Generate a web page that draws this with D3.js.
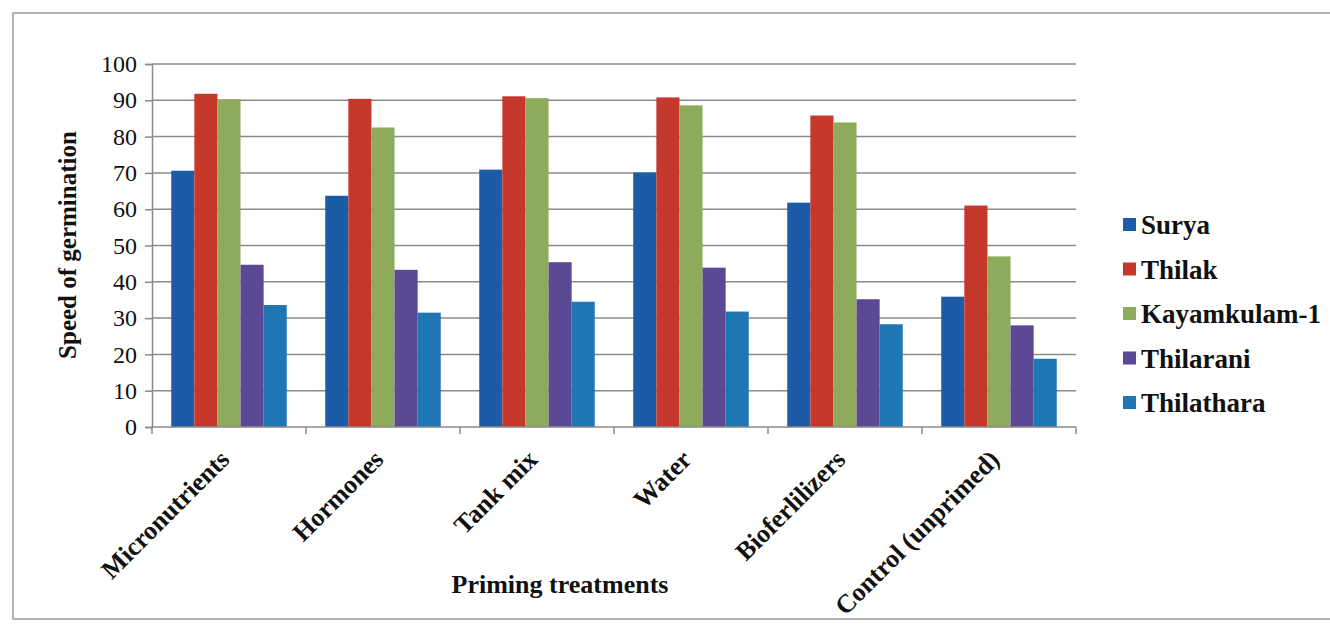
<!DOCTYPE html>
<html>
<head>
<meta charset="utf-8">
<script src="https://cdn.jsdelivr.net/npm/d3@7"></script>
<style>
  html, body { margin: 0; padding: 0; background: #fff; }
  svg { display: block; }
</style>
</head>
<body>
<svg id="chart" width="1330" height="624"></svg>
<script>
// Priming treatments (x categories)
const categories = ["Micronutrients", "Hormones", "Tank mix", "Water", "Bioferlilizers", "Control (unprimed)"];

// Varieties (series)
const seriesNames = ["Surya", "Thilak", "Kayamkulam-1", "Thilarani", "Thilathara"];

// Speed of germination per variety, in category order
const surya      = [70.6, 63.7, 70.9, 70.1, 61.8, 35.9];
const thilak     = [91.8, 90.4, 91.1, 90.8, 85.8, 61.0];
const kayamkulam = [90.3, 82.5, 90.6, 88.6, 83.9, 47.0];
const thilarani  = [44.7, 43.3, 45.4, 43.9, 35.2, 28.0];
const thilathara = [33.6, 31.5, 34.5, 31.8, 28.3, 18.8];

const yTicks = [0, 10, 20, 30, 40, 50, 60, 70, 80, 90, 100];

const seriesValues = [surya, thilak, kayamkulam, thilarani, thilathara];
const colors = ["#1c5ba6", "#c6372c", "#8dab5b", "#5c4996", "#1f76b2"];

const SERIF = "'Liberation Serif', 'Times New Roman', serif";

const svg = d3.select("#chart");

// outer frame
svg.append("rect")
  .attr("x", 13).attr("y", 13).attr("width", 1330).attr("height", 606)
  .attr("fill", "none").attr("stroke", "#9a9a9a").attr("stroke-width", 1.5);

const plot = { left: 152, right: 1076, top: 64, bottom: 427 };

const x0 = d3.scaleBand()
  .domain(categories)
  .range([plot.left, plot.right])
  .paddingInner(0.25)
  .paddingOuter(0.125);

const x1 = d3.scaleBand()
  .domain(seriesNames)
  .range([0, x0.bandwidth()]);

const y = d3.scaleLinear().domain([0, 100]).range([plot.bottom, plot.top]);

// horizontal gridlines
svg.append("g")
  .selectAll("line")
  .data(yTicks.filter(d => d > 0))
  .join("line")
  .attr("x1", plot.left).attr("x2", plot.right)
  .attr("y1", d => y(d)).attr("y2", d => y(d))
  .attr("stroke", "#8a8a8a").attr("stroke-width", 1.5);

// y axis
const yAxis = svg.append("g")
  .attr("transform", `translate(${plot.left},0)`)
  .call(d3.axisLeft(y).tickValues(yTicks).tickSize(7).tickPadding(8));
yAxis.select(".domain").attr("stroke", "#8a8a8a").attr("stroke-width", 1.5);
yAxis.selectAll(".tick line").attr("stroke", "#8a8a8a").attr("stroke-width", 1.5);
yAxis.selectAll(".tick text")
  .style("font-family", SERIF)
  .style("font-size", "24px")
  .attr("fill", "#111");

// bars
const groups = svg.append("g")
  .selectAll("g")
  .data(categories)
  .join("g")
  .attr("transform", d => `translate(${x0(d)},0)`);

groups.selectAll("rect")
  .data((c, ci) => seriesNames.map((s, si) => ({ s, si, v: seriesValues[si][ci] })))
  .join("rect")
  .attr("x", d => x1(d.s))
  .attr("width", x1.bandwidth())
  .attr("y", d => y(d.v))
  .attr("height", d => y(0) - y(d.v))
  .attr("fill", d => colors[d.si]);

// x axis baseline with ticks at category boundaries
const boundaries = d3.range(categories.length + 1).map(i => plot.left + i * x0.step());
svg.append("line")
  .attr("x1", plot.left).attr("x2", plot.right)
  .attr("y1", plot.bottom).attr("y2", plot.bottom)
  .attr("stroke", "#8a8a8a").attr("stroke-width", 1.5);
svg.append("g")
  .selectAll("line")
  .data(boundaries)
  .join("line")
  .attr("x1", d => d).attr("x2", d => d)
  .attr("y1", plot.bottom).attr("y2", plot.bottom + 7)
  .attr("stroke", "#8a8a8a").attr("stroke-width", 1.5);

// rotated category labels
svg.append("g")
  .selectAll("text")
  .data(categories)
  .join("text")
  .attr("transform", d => `translate(${x0(d) + x0.bandwidth() / 2 + 2},${plot.bottom + 34}) rotate(-45)`)
  .attr("text-anchor", "end")
  .style("font-family", SERIF)
  .style("font-size", "26px")
  .style("font-weight", "bold")
  .attr("fill", "#111")
  .text(d => d);

// axis titles
svg.append("text")
  .attr("x", 560).attr("y", 593)
  .attr("text-anchor", "middle")
  .style("font-family", SERIF)
  .style("font-size", "26px").style("font-weight", "bold")
  .attr("fill", "#111")
  .text("Priming treatments");

svg.append("text")
  .attr("transform", `translate(76,245) rotate(-90)`)
  .attr("text-anchor", "middle")
  .style("font-family", SERIF)
  .style("font-size", "25px").style("font-weight", "bold")
  .attr("fill", "#111")
  .text("Speed of germination");

// legend
const legend = svg.append("g").attr("transform", "translate(1123,225)");
const rows = legend.selectAll("g")
  .data(seriesNames)
  .join("g")
  .attr("transform", (d, i) => `translate(0,${i * 44.5})`);
rows.append("rect")
  .attr("x", 0).attr("y", -7).attr("width", 13).attr("height", 13)
  .attr("fill", (d, i) => colors[i]);
rows.append("text")
  .attr("x", 18).attr("y", 9)
  .style("font-family", SERIF)
  .style("font-size", "27px").style("font-weight", "bold")
  .attr("fill", "#111")
  .text(d => d);
</script>
</body>
</html>
